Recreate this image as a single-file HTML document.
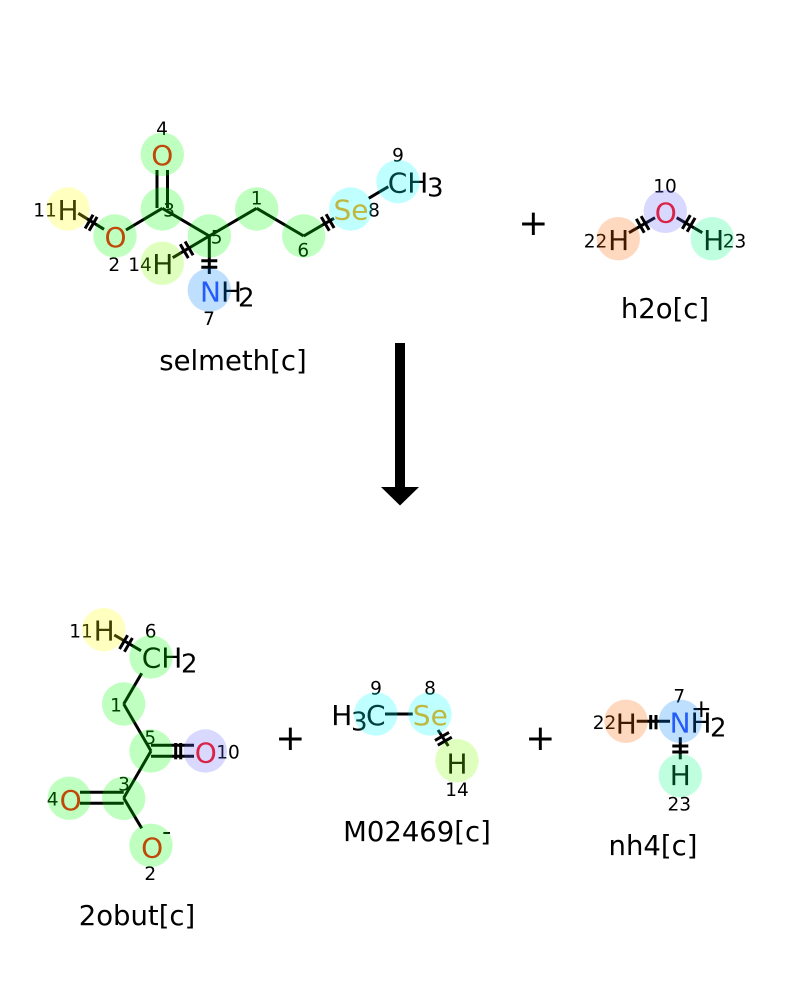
<!DOCTYPE html>
<html><head><meta charset="utf-8"><style>
html,body{margin:0;padding:0;background:#fff}
svg{display:block}
text{font-family:"DejaVu Sans",sans-serif}
.a{font-size:28px}
.s{font-size:26px}
.n{font-size:18.500px;text-anchor:middle;fill:#000}
.t{font-size:27.500px;text-anchor:middle;fill:#000}
.p{font-size:36px;text-anchor:middle;fill:#000}
.b line{stroke:#000;stroke-width:3}
.k line{stroke:#000;stroke-width:3}
.O{fill:#ff0d0d}.Se{fill:#ffa100}.N{fill:#3050f8}
</style></head><body>
<svg width="800" height="1000" viewBox="0 0 800 1000" xmlns="http://www.w3.org/2000/svg">
<rect width="800" height="1000" fill="#fff"/>
<g class="b">
<line x1="157" y1="170" x2="157" y2="208"/><line x1="167.500" y1="170" x2="167.500" y2="208"/>
<line x1="126" y1="230" x2="162.300" y2="208.300"/><line x1="162.300" y1="208.300" x2="209.300" y2="236"/>
<line x1="209.300" y1="236" x2="256.700" y2="208.300"/><line x1="256.700" y1="208.300" x2="303.700" y2="236"/>
<line x1="303.700" y1="236" x2="334" y2="218.300"/><line x1="368.700" y1="198.300" x2="388.300" y2="186.700"/>
<line x1="172.700" y1="257.700" x2="209.300" y2="236"/><line x1="209.300" y1="236" x2="209.300" y2="274"/>
<line x1="78.300" y1="213.300" x2="104" y2="229.300"/>
<line x1="629" y1="232.700" x2="655" y2="217.700"/><line x1="676.700" y1="217.700" x2="702.300" y2="232.700"/>
<line x1="114.300" y1="635" x2="141" y2="650.700"/><line x1="141.700" y1="673.300" x2="123.700" y2="704"/>
<line x1="123.700" y1="704" x2="151" y2="751"/><line x1="151" y1="751" x2="123.700" y2="798"/>
<line x1="123.700" y1="798" x2="141.700" y2="828.300"/>
<line x1="151" y1="745.300" x2="194" y2="745.300"/><line x1="151" y1="756.300" x2="194" y2="756.300"/>
<line x1="80" y1="792.300" x2="123.700" y2="792.300"/><line x1="80" y1="803.300" x2="123.700" y2="803.300"/>
<line x1="385" y1="714" x2="412.700" y2="714"/><line x1="438" y1="730" x2="448.300" y2="746"/>
<line x1="636.700" y1="721.300" x2="670" y2="721.300"/><line x1="680.300" y1="737.300" x2="680.300" y2="759.300"/>
</g>
<g class="k">
<line x1="85.100" y1="228.500" x2="93.100" y2="214.700"/><line x1="89.100" y1="230.700" x2="97.100" y2="216.900"/>
<line x1="180.300" y1="244.300" x2="188.300" y2="258.100"/><line x1="185.100" y1="241.500" x2="193.100" y2="255.300"/>
<line x1="201.300" y1="260.700" x2="217.300" y2="260.700"/><line x1="201.300" y1="267.300" x2="217.300" y2="267.300"/>
<line x1="321.300" y1="217" x2="329.300" y2="230.800"/><line x1="326.100" y1="214.200" x2="334.100" y2="228"/>
<line x1="119.600" y1="649" x2="127.600" y2="635.200"/><line x1="124.400" y1="651.800" x2="132.400" y2="638"/>
<line x1="175.700" y1="743" x2="175.700" y2="759.300"/><line x1="180.700" y1="743" x2="180.700" y2="759.300"/>
<line x1="435" y1="740.400" x2="449" y2="732.400"/><line x1="437.800" y1="745.200" x2="451.800" y2="737.200"/>
<line x1="650.700" y1="715" x2="650.700" y2="729.300"/><line x1="656" y1="715" x2="656" y2="729.300"/>
<line x1="672.300" y1="746" x2="688.300" y2="746"/><line x1="672.300" y1="752" x2="688.300" y2="752"/>
<line x1="636.300" y1="218.900" x2="644.300" y2="232.700"/><line x1="641.100" y1="216.100" x2="649.100" y2="229.900"/>
<line x1="682.300" y1="228.900" x2="690.300" y2="215.100"/><line x1="687.100" y1="231.700" x2="695.100" y2="217.900"/>
</g>
<!-- arrow -->
<polygon points="395,343 405,343 405,487 419,487 400,505.500 381,487 395,487" fill="#000"/>
<!-- atom labels -->
<g class="a" text-anchor="middle">
<text x="162.300" y="165" class="O">O</text>
<text x="115.500" y="247" class="O">O</text>
<text x="68" y="220">H</text>
<text x="162.800" y="274">H</text>
<text x="351" y="219.500" class="Se">Se</text>
<text x="665.800" y="222.700" class="O">O</text>
<text x="618.700" y="250">H</text>
<text x="713.700" y="250">H</text>
<text x="104.100" y="640.700">H</text>
<text x="205.800" y="762.700" class="O">O</text>
<text x="70.700" y="810" class="O">O</text>
<text x="152.200" y="857.300" class="O">O</text>
<text x="430.300" y="725" class="Se">Se</text>
<text x="457" y="773.300">H</text>
<text x="626.300" y="733.300">H</text>
<text x="680.300" y="785">H</text>
</g>
<g class="a">
<text x="387.700" y="192.700">CH</text><text class="s" x="427" y="196.700">3</text>
<text x="200" y="301.700"><tspan class="N">N</tspan>H</text><text class="s" x="238" y="306.700">2</text>
<text x="141.700" y="667.700">CH</text><text class="s" x="181" y="672.700">2</text>
<text x="331.300" y="725">H</text><text class="s" x="351" y="730.700">3</text><text x="366" y="725">C</text>
<text x="669.600" y="732.700"><tspan class="N">N</tspan>H</text><text class="s" x="710" y="736.700">2</text>
<text x="701.300" y="717" text-anchor="middle" style="font-size:25px">+</text>
<text x="166.700" y="840" text-anchor="middle" style="font-size:25px">-</text>
</g>
<!-- atom numbers -->
<g>
<text class="n" x="162" y="135">4</text><text class="n" x="398" y="161.700">9</text>
<text class="n" x="45" y="216.700">11</text><text class="n" x="169" y="216.700">3</text>
<text class="n" x="114.300" y="271">2</text><text class="n" x="140" y="271">14</text>
<text class="n" x="216.700" y="243.300">5</text><text class="n" x="256.700" y="204.300">1</text>
<text class="n" x="303.300" y="256.700">6</text><text class="n" x="374" y="216.700">8</text>
<text class="n" x="209" y="325">7</text>
<text class="n" x="665" y="192.700">10</text><text class="n" x="595.500" y="247.300">22</text><text class="n" x="734.500" y="247.300">23</text>
<text class="n" x="81" y="637.700">11</text><text class="n" x="150.700" y="637.700">6</text>
<text class="n" x="116" y="711.700">1</text><text class="n" x="150.300" y="744">5</text>
<text class="n" x="228" y="758.700">10</text><text class="n" x="124" y="790.700">3</text>
<text class="n" x="52.700" y="805.700">4</text><text class="n" x="150.300" y="880">2</text>
<text class="n" x="376" y="694.300">9</text><text class="n" x="430" y="694.300">8</text><text class="n" x="457" y="796">14</text>
<text class="n" x="604.500" y="729">22</text><text class="n" x="679.300" y="702.700">7</text><text class="n" x="679.300" y="810.700">23</text>
</g>
<!-- highlights over everything -->
<g fill-opacity=".25">
<g fill="#00ff00">
<circle cx="162.300" cy="154.300" r="21.700"/><circle cx="162.300" cy="209" r="21.700"/><circle cx="115" cy="236" r="21.700"/>
<circle cx="209.300" cy="236" r="21.700"/><circle cx="256.700" cy="209" r="21.700"/><circle cx="303.700" cy="236" r="21.700"/>
<circle cx="151" cy="657" r="21.700"/><circle cx="123.700" cy="704" r="21.700"/><circle cx="151" cy="751" r="21.700"/>
<circle cx="123.700" cy="798.300" r="21.700"/><circle cx="69.300" cy="798.300" r="21.700"/><circle cx="151" cy="845.300" r="21.700"/>
</g>
<g fill="#ffff00"><circle cx="68" cy="209" r="21.700"/><circle cx="103.700" cy="629.700" r="21.700"/></g>
<g fill="#00ffff"><circle cx="350.700" cy="209" r="21.700"/><circle cx="398" cy="181.700" r="21.700"/><circle cx="375.700" cy="714" r="21.700"/><circle cx="430" cy="714" r="21.700"/></g>
<g fill="#80ff00"><circle cx="162.300" cy="263.300" r="21.700"/><circle cx="457" cy="760.700" r="21.700"/></g>
<g fill="#0080ff"><circle cx="209.300" cy="290" r="21.700"/><circle cx="680.300" cy="721.300" r="21.700"/></g>
<g fill="#6666ff"><circle cx="665.300" cy="211.300" r="21.700"/><circle cx="205.300" cy="751" r="21.700"/></g>
<g fill="#ff6600"><circle cx="618.300" cy="238.700" r="21.700"/><circle cx="626" cy="721.300" r="21.700"/></g>
<g fill="#00ff80"><circle cx="712.300" cy="238.700" r="21.700"/><circle cx="680.300" cy="775.700" r="21.700"/></g>
</g>
<!-- plus signs and names -->
<text class="p" x="533.300" y="235">+</text><text class="p" x="290.300" y="750">+</text><text class="p" x="540.300" y="750">+</text>
<text class="t" x="233" y="370">selmeth[c]</text><text class="t" x="665" y="318">h2o[c]</text>
<text class="t" x="137" y="925">2obut[c]</text><text class="t" x="417" y="841">M02469[c]</text><text class="t" x="653" y="855">nh4[c]</text>
</svg>
</body></html>
